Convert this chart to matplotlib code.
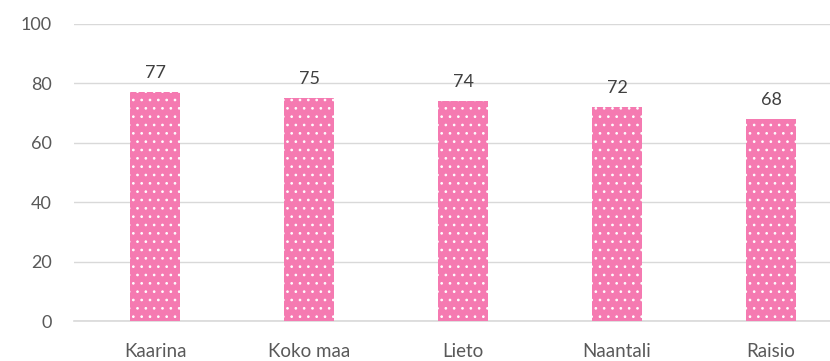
import matplotlib.pyplot as plt
import matplotlib as mpl

kunnat = ["Kaarina", "Koko maa", "Lieto", "Naantali", "Raisio"]
arvot = [77, 75, 74, 72, 68]
y_ticks = [0, 20, 40, 60, 80, 100]

mpl.rcParams['hatch.color'] = 'white'
mpl.rcParams['hatch.linewidth'] = 0.7
plt.rcParams['font.family'] = ['Lato', 'DejaVu Sans']

fig = plt.figure(figsize=(8.3, 3.61), dpi=100)
ax = fig.add_axes([74/830, 40/361, 1 - 74/830, 297/361])

x = range(len(kunnat))
bars = ax.bar(x, arvot, width=0.33, color='#F57AB1', edgecolor='white',
              linewidth=0, hatch='..', zorder=2)

for xi, v in zip(x, arvot):
	ax.annotate(str(v), (xi, v), xytext=(0, 8), textcoords='offset points',
	            ha='center', va='bottom', fontsize=13, color='#404040')

ax.set_xlim(-0.526, 4.383)
ax.set_ylim(0, 100)
ax.set_yticks(y_ticks)
ax.set_xticks(list(x))
ax.set_xticklabels(kunnat)
ax.grid(axis='y', color='#D9D9D9', linewidth=1, zorder=0)
ax.axhline(0, color='#D9D9D9', linewidth=1.2, clip_on=False, zorder=1)
ax.tick_params(axis='both', length=0, labelcolor='#595959')
ax.tick_params(axis='y', pad=16, labelsize=13)
ax.tick_params(axis='x', pad=16, labelsize=13.5)
for s in ax.spines.values():
	s.set_visible(False)

fig.savefig('out.png', dpi=100)
